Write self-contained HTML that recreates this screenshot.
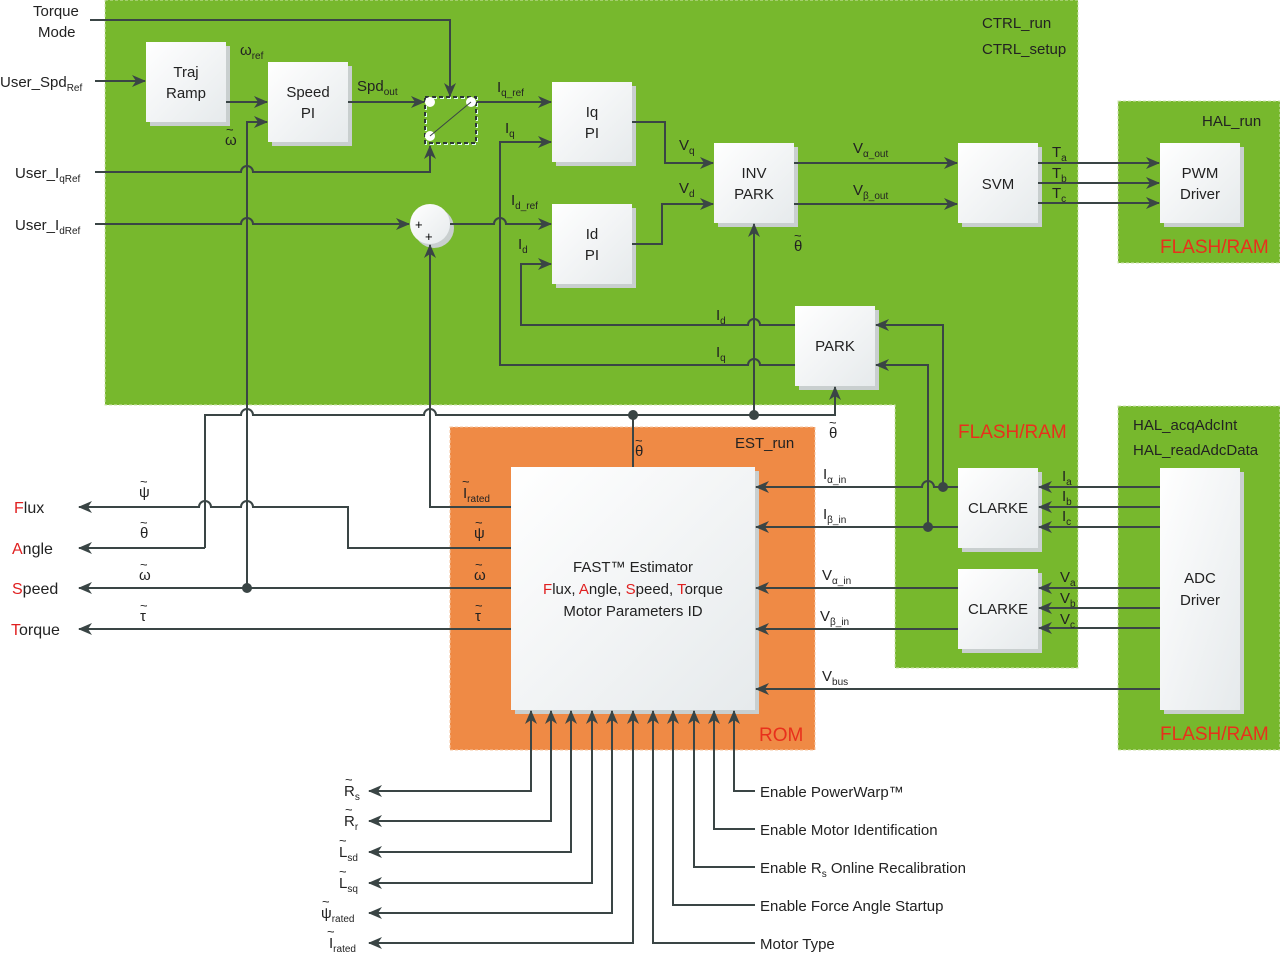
<!DOCTYPE html>
<html><head><meta charset="utf-8"><style>
html,body{margin:0;padding:0;background:#fff;}
svg{display:block;font-family:"Liberation Sans","DejaVu Sans",sans-serif;}
.t{font-size:15px;fill:#222;}
.b{font-size:15px;fill:#222;text-anchor:middle;}
.r{fill:#e02020;}
.s{font-size:10px;}
.tl{font-size:13px;fill:#222;}
line,path.w{stroke:#3a4545;stroke-width:2;fill:none;}
</style></head><body>
<svg width="1280" height="953" viewBox="0 0 1280 953" xmlns="http://www.w3.org/2000/svg">
<defs>
<marker id="a" markerWidth="14" markerHeight="12" refX="13" refY="6" orient="auto" markerUnits="userSpaceOnUse"><path d="M0,0 L14,6 L0,12 L4,6 Z" fill="#3a4545"/></marker>
<marker id="b" markerWidth="14" markerHeight="12" refX="13" refY="6" orient="auto-start-reverse" markerUnits="userSpaceOnUse"><path d="M0,0 L14,6 L0,12 L4,6 Z" fill="#3a4545"/></marker>
<linearGradient id="g" x1="0" y1="0" x2="1" y2="1"><stop offset="0" stop-color="#ffffff"/><stop offset="1" stop-color="#e6eaec"/></linearGradient>
</defs>
<!-- regions -->
<path d="M105,0 H1078 V668 H895 V405 H105 Z" fill="#77b82d" stroke="#cfe3b0" stroke-dasharray="3,2"/>
<rect x="1118" y="101" width="162" height="162" fill="#77b82d" stroke="#cfe3b0" stroke-dasharray="3,2"/>
<rect x="1118" y="406" width="162" height="344" fill="#77b82d" stroke="#cfe3b0" stroke-dasharray="3,2"/>
<rect x="450" y="427" width="365" height="323" fill="#ef8a45" stroke="#f6c7a3" stroke-dasharray="3,2"/>

<!-- blocks -->
<g fill="#c9cfcf">
<rect x="150" y="46" width="80" height="80"/><rect x="272" y="66" width="80" height="80"/>
<rect x="556" y="86" width="80" height="80"/><rect x="556" y="208" width="80" height="80"/>
<rect x="718" y="147" width="80" height="80"/><rect x="962" y="147" width="80" height="80"/>
<rect x="1164" y="147" width="80" height="80"/><rect x="799" y="310" width="80" height="80"/>
<rect x="962" y="472" width="80" height="80"/><rect x="962" y="573" width="80" height="80"/>
<rect x="1164" y="472" width="80" height="242"/><rect x="515" y="471" width="244" height="243"/>
<circle cx="434" cy="228" r="20"/>
</g>
<g fill="url(#g)">
<rect x="146" y="42" width="80" height="80"/><rect x="268" y="62" width="80" height="80"/>
<rect x="552" y="82" width="80" height="80"/><rect x="552" y="204" width="80" height="80"/>
<rect x="714" y="143" width="80" height="80"/><rect x="958" y="143" width="80" height="80"/>
<rect x="1160" y="143" width="80" height="80"/><rect x="795" y="306" width="80" height="80"/>
<rect x="958" y="468" width="80" height="80"/><rect x="958" y="569" width="80" height="80"/>
<rect x="1160" y="468" width="80" height="242"/><rect x="511" y="467" width="244" height="243"/>
<circle cx="430" cy="224" r="20"/>
</g>
<rect x="426" y="98" width="51" height="46" fill="none" stroke="#dfe" stroke-width="2" stroke-dasharray="4,3"/>
<rect x="425" y="97" width="51" height="46" fill="none" stroke="#2b3535" stroke-width="2" stroke-dasharray="4,3"/>
<circle cx="430" cy="102" r="5" fill="#fff"/><circle cx="471" cy="102" r="5" fill="#fff"/><circle cx="430" cy="136" r="5" fill="#fff"/>
<line x1="430" y1="136" x2="471" y2="102" style="stroke-width:1"/>

<!-- top connectors -->
<path class="w" d="M90,20 H450 V96" marker-end="url(#a)"/>
<path class="w" d="M95,81 H145" marker-end="url(#a)"/>
<path class="w" d="M226,102 H267" marker-end="url(#a)"/>
<path class="w" d="M247,588 V122 H267" marker-end="url(#a)"/>
<path class="w" d="M348,102 H424" marker-end="url(#a)"/>
<path class="w" d="M95,172 H241 A6,6 0 0 1 253,172 H430 V146" marker-end="url(#a)"/>
<path class="w" d="M95,224 H241 A6,6 0 0 1 253,224 H409" marker-end="url(#a)"/>
<path class="w" d="M450,224 H494 A6,6 0 0 1 506,224 H551" marker-end="url(#a)"/>
<path class="w" d="M477,102 H551" marker-end="url(#a)"/>
<path class="w" d="M795,365 H760 A6,6 0 0 0 748,365 H500 V142 H551" marker-end="url(#a)"/>
<path class="w" d="M795,325 H760 A6,6 0 0 0 748,325 H521 V264 H551" marker-end="url(#a)"/>
<path class="w" d="M632,122 H665 V163 H713" marker-end="url(#a)"/>
<path class="w" d="M632,244 H662 V204 H713" marker-end="url(#a)"/>
<path class="w" d="M794,163 H957" marker-end="url(#a)"/>
<path class="w" d="M794,204 H957" marker-end="url(#a)"/>
<path class="w" d="M1038,163 H1159" marker-end="url(#a)"/>
<path class="w" d="M1038,183 H1159" marker-end="url(#a)"/>
<path class="w" d="M1038,203 H1159" marker-end="url(#a)"/>
<path class="w" d="M754,415 V224" marker-end="url(#a)"/>
<path class="w" d="M205,548 V415 H241 A6,6 0 0 1 253,415 H424 A6,6 0 0 1 436,415 H835 V387" marker-end="url(#a)"/>
<path class="w" d="M633,467 V415"/>
<circle cx="633" cy="415" r="5" fill="#3a4545"/><circle cx="754" cy="415" r="5" fill="#3a4545"/>

<!-- left outputs -->
<path class="w" d="M511,507 H430 V245" marker-end="url(#a)"/>
<path class="w" d="M511,548 H348 V507 H253 A6,6 0 0 0 241,507 H211 A6,6 0 0 0 199,507 H79" marker-end="url(#a)"/>
<path class="w" d="M205,548 H79" marker-end="url(#a)"/>
<path class="w" d="M511,588 H79" marker-end="url(#a)"/>
<circle cx="247" cy="588" r="5" fill="#3a4545"/>
<path class="w" d="M511,629 H79" marker-end="url(#a)"/>

<!-- right inputs -->
<path class="w" d="M958,487 H934 A6,6 0 0 0 922,487 H756" marker-end="url(#a)"/>
<path class="w" d="M958,527 H756" marker-end="url(#a)"/>
<path class="w" d="M943,487 V325 H876" marker-end="url(#a)"/>
<path class="w" d="M928,527 V365 H876" marker-end="url(#a)"/>
<circle cx="943" cy="487" r="5" fill="#3a4545"/><circle cx="928" cy="527" r="5" fill="#3a4545"/>
<path class="w" d="M958,588 H756" marker-end="url(#a)"/>
<path class="w" d="M958,629 H756" marker-end="url(#a)"/>
<path class="w" d="M1160,689 H756" marker-end="url(#a)"/>
<path class="w" d="M1160,487 H1039" marker-end="url(#a)"/>
<path class="w" d="M1160,507 H1039" marker-end="url(#a)"/>
<path class="w" d="M1160,527 H1039" marker-end="url(#a)"/>
<path class="w" d="M1160,588 H1039" marker-end="url(#a)"/>
<path class="w" d="M1160,608 H1039" marker-end="url(#a)"/>
<path class="w" d="M1160,628 H1039" marker-end="url(#a)"/>

<!-- bottom -->
<path class="w" d="M531,711 V791 H369" marker-start="url(#b)" marker-end="url(#a)"/>
<path class="w" d="M551,711 V821 H369" marker-start="url(#b)" marker-end="url(#a)"/>
<path class="w" d="M571,711 V852 H369" marker-start="url(#b)" marker-end="url(#a)"/>
<path class="w" d="M592,711 V883 H369" marker-start="url(#b)" marker-end="url(#a)"/>
<path class="w" d="M612,711 V913 H369" marker-start="url(#b)" marker-end="url(#a)"/>
<path class="w" d="M633,711 V943 H369" marker-start="url(#b)" marker-end="url(#a)"/>
<path class="w" d="M755,943 H653 V711" marker-end="url(#a)"/>
<path class="w" d="M755,905 H673 V711" marker-end="url(#a)"/>
<path class="w" d="M755,867 H694 V711" marker-end="url(#a)"/>
<path class="w" d="M755,829 H714 V711" marker-end="url(#a)"/>
<path class="w" d="M755,791 H734 V711" marker-end="url(#a)"/>

<!-- block labels -->
<text class="b" x="186" y="77">Traj</text><text class="b" x="186" y="98">Ramp</text>
<text class="b" x="308" y="97">Speed</text><text class="b" x="308" y="118">PI</text>
<text class="b" x="592" y="117">Iq</text><text class="b" x="592" y="138">PI</text>
<text class="b" x="592" y="239">Id</text><text class="b" x="592" y="260">PI</text>
<text class="b" x="754" y="178">INV</text><text class="b" x="754" y="199">PARK</text>
<text class="b" x="998" y="189">SVM</text>
<text class="b" x="1200" y="178">PWM</text><text class="b" x="1200" y="199">Driver</text>
<text class="b" x="835" y="351">PARK</text>
<text class="b" x="998" y="513">CLARKE</text><text class="b" x="998" y="614">CLARKE</text>
<text class="b" x="1200" y="583">ADC</text><text class="b" x="1200" y="605">Driver</text>
<text class="b" x="633" y="572">FAST™ Estimator</text>
<text class="b" x="633" y="594"><tspan class="r">F</tspan>lux, <tspan class="r">A</tspan>ngle, <tspan class="r">S</tspan>peed, <tspan class="r">T</tspan>orque</text>
<text class="b" x="633" y="616">Motor Parameters ID</text>
<text x="415" y="229" style="font-size:13px">+</text><text x="425" y="241" style="font-size:13px">+</text>

<!-- region labels -->
<text class="t" x="982" y="28">CTRL_run</text><text class="t" x="982" y="54">CTRL_setup</text>
<text class="t" x="1202" y="126">HAL_run</text>
<text class="t" x="1133" y="430">HAL_acqAdcInt</text><text class="t" x="1133" y="455">HAL_readAdcData</text>
<text class="t" x="735" y="448">EST_run</text>
<text x="1160" y="253" style="font-size:19px;fill:#e8301c">FLASH/RAM</text>
<text x="958" y="438" style="font-size:19px;fill:#e8301c">FLASH/RAM</text>
<text x="1160" y="740" style="font-size:19px;fill:#e8301c">FLASH/RAM</text>
<text x="759" y="741" style="font-size:19px;fill:#e8301c">ROM</text>

<!-- signal labels -->
<text class="t" x="33" y="16">Torque</text><text class="t" x="38" y="37">Mode</text>
<text class="t" x="0" y="87">User_Spd<tspan class="s" dy="4">Ref</tspan></text>
<text class="t" x="15" y="178">User_I<tspan class="s" dy="4">qRef</tspan></text>
<text class="t" x="15" y="230">User_I<tspan class="s" dy="4">dRef</tspan></text>
<text class="t" x="240" y="55">ω<tspan class="s" dy="4">ref</tspan></text>
<text class="t" x="357" y="91">Spd<tspan class="s" dy="4">out</tspan></text>
<text class="t" x="497" y="92">I<tspan class="s" dy="4">q_ref</tspan></text>
<text class="t" x="505" y="133">I<tspan class="s" dy="4">q</tspan></text>
<text class="t" x="511" y="205">I<tspan class="s" dy="4">d_ref</tspan></text>
<text class="t" x="518" y="249">I<tspan class="s" dy="4">d</tspan></text>
<text class="t" x="679" y="150">V<tspan class="s" dy="4">q</tspan></text>
<text class="t" x="679" y="193">V<tspan class="s" dy="4">d</tspan></text>
<text class="t" x="853" y="153">V<tspan class="s" dy="4">α_out</tspan></text>
<text class="t" x="853" y="195">V<tspan class="s" dy="4">β_out</tspan></text>
<text class="t" x="1052" y="157">T<tspan class="s" dy="4">a</tspan></text>
<text class="t" x="1052" y="178">T<tspan class="s" dy="4">b</tspan></text>
<text class="t" x="1052" y="198">T<tspan class="s" dy="4">c</tspan></text>
<text class="t" x="716" y="320">I<tspan class="s" dy="4">d</tspan></text>
<text class="t" x="716" y="357">I<tspan class="s" dy="4">q</tspan></text>

<!-- tilde symbols: glyph + separate tilde above -->
<g class="t">
<text x="225" y="145">ω</text><text class="tl" x="226" y="134">~</text>
<text x="794" y="251">θ</text><text class="tl" x="794" y="240">~</text>
<text x="829" y="438">θ</text><text class="tl" x="829" y="427">~</text>
<text x="635" y="456">θ</text><text class="tl" x="635" y="445">~</text>
<text x="463" y="498">I<tspan class="s" dy="4">rated</tspan></text><text class="tl" x="462" y="486">~</text>
<text x="474" y="538">ψ</text><text class="tl" x="475" y="527">~</text>
<text x="474" y="580">ω</text><text class="tl" x="475" y="569">~</text>
<text x="475" y="621">τ</text><text class="tl" x="475" y="610">~</text>
<text x="139" y="497">ψ</text><text class="tl" x="140" y="486">~</text>
<text x="140" y="538">θ</text><text class="tl" x="140" y="527">~</text>
<text x="139" y="580">ω</text><text class="tl" x="140" y="569">~</text>
<text x="140" y="621">τ</text><text class="tl" x="140" y="610">~</text>
<text x="344" y="796">R<tspan class="s" dy="4">s</tspan></text><text class="tl" x="345" y="784">~</text>
<text x="344" y="826">R<tspan class="s" dy="4">r</tspan></text><text class="tl" x="345" y="814">~</text>
<text x="339" y="857">L<tspan class="s" dy="4">sd</tspan></text><text class="tl" x="339" y="845">~</text>
<text x="339" y="888">L<tspan class="s" dy="4">sq</tspan></text><text class="tl" x="339" y="876">~</text>
<text x="321" y="918">ψ<tspan class="s" dy="4">rated</tspan></text><text class="tl" x="322" y="906">~</text>
<text x="329" y="948">I<tspan class="s" dy="4">rated</tspan></text><text class="tl" x="327" y="936">~</text>
</g>

<text x="14" y="513" style="font-size:16px;fill:#222"><tspan class="r">F</tspan>lux</text>
<text x="12" y="554" style="font-size:16px;fill:#222"><tspan class="r">A</tspan>ngle</text>
<text x="12" y="594" style="font-size:16px;fill:#222"><tspan class="r">S</tspan>peed</text>
<text x="11" y="635" style="font-size:16px;fill:#222"><tspan class="r">T</tspan>orque</text>
<text class="t" x="823" y="479">I<tspan class="s" dy="4">α_in</tspan></text>
<text class="t" x="823" y="519">I<tspan class="s" dy="4">β_in</tspan></text>
<text class="t" x="822" y="580">V<tspan class="s" dy="4">α_in</tspan></text>
<text class="t" x="820" y="621">V<tspan class="s" dy="4">β_in</tspan></text>
<text class="t" x="822" y="681">V<tspan class="s" dy="4">bus</tspan></text>
<text class="t" x="1062" y="481">I<tspan class="s" dy="4">a</tspan></text>
<text class="t" x="1062" y="501">I<tspan class="s" dy="4">b</tspan></text>
<text class="t" x="1062" y="521">I<tspan class="s" dy="4">c</tspan></text>
<text class="t" x="1060" y="582">V<tspan class="s" dy="4">a</tspan></text>
<text class="t" x="1060" y="603">V<tspan class="s" dy="4">b</tspan></text>
<text class="t" x="1060" y="624">V<tspan class="s" dy="4">c</tspan></text>
<text class="t" x="760" y="797">Enable PowerWarp™</text>
<text class="t" x="760" y="835">Enable Motor Identification</text>
<text class="t" x="760" y="873">Enable R<tspan class="s" dy="4">s</tspan><tspan dy="-4"> Online Recalibration</tspan></text>
<text class="t" x="760" y="911">Enable Force Angle Startup</text>
<text class="t" x="760" y="949">Motor Type</text>
</svg>
</body></html>
